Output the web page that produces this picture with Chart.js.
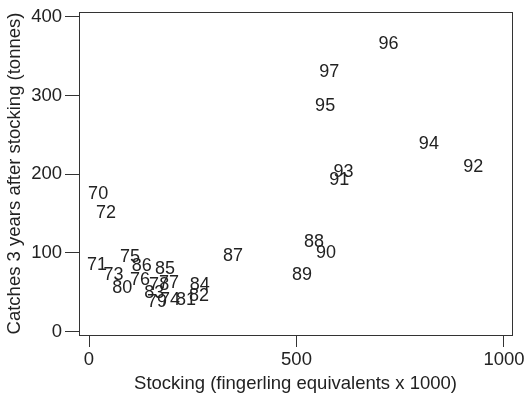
<!DOCTYPE html>
<html>
<head>
<meta charset="utf-8">
<script src="https://cdn.jsdelivr.net/npm/chart.js@4"></script>
<style>
  html, body { margin: 0; padding: 0; background: #fff; }
  #wrap { width: 525px; height: 396px; }
</style>
</head>
<body>
<div id="wrap"><canvas id="myChart" width="525" height="396"></canvas></div>
<script>
// years used as point labels
var years = ['70','71','72','73','74','75','76','77','78','79','80','81','82','83',
             '84','85','86','87','88','89','90','91','92','93','94','95','96','97'];
// stocking (fingerling equivalents x 1000)
var stocking = [22, 19, 41, 59, 195, 99, 123, 193, 169, 164, 80, 234, 265, 157,
                267, 183, 127, 347, 542, 513, 571, 603, 926, 613, 819, 569, 722, 579];
// catches 3 years after stocking (tonnes)
var catches = [175, 85, 151, 72, 40, 95, 66, 62, 59, 38, 55, 40, 45, 49,
               59, 80, 83, 96, 114, 72, 100, 193, 209, 203, 238, 286, 365, 330];
var xTicks = [0, 500, 1000];
var yTicks = [0, 100, 200, 300, 400];

var FONT = "'Liberation Sans', Arial, sans-serif";
var INK = '#222';

var points = stocking.map(function(s, i) { return { x: s, y: catches[i] }; });

// draw the year text at each point, plus the box round the plot
var yearLabels = {
  id: 'yearLabels',
  afterDatasetsDraw: function(chart) {
    var ctx = chart.ctx;
    var meta = chart.getDatasetMeta(0);
    ctx.save();
    ctx.fillStyle = INK;
    ctx.font = '18px ' + FONT;
    ctx.textAlign = 'center';
    ctx.textBaseline = 'middle';
    meta.data.forEach(function(pt, i) {
      ctx.fillText(years[i], pt.x, pt.y);
    });
    var a = chart.chartArea;
    ctx.strokeStyle = '#333';
    ctx.lineWidth = 1;
    ctx.strokeRect(Math.round(a.left) + 0.5, Math.round(a.top) + 0.5,
                   Math.round(a.right - a.left), Math.round(a.bottom - a.top));
    ctx.restore();
  }
};

var ctx = document.getElementById('myChart').getContext('2d');
var myChart = new Chart(ctx, {
  type: 'scatter',
  data: {
    datasets: [{
      data: points,
      pointRadius: 0,
      pointHoverRadius: 0,
      showLine: false
    }]
  },
  options: {
    responsive: false,
    animation: false,
    events: [],
    layout: { padding: { top: 12, right: 13, left: 0, bottom: 0 } },
    plugins: {
      legend: { display: false },
      tooltip: { enabled: false }
    },
    scales: {
      x: {
        type: 'linear',
        min: -24.1,
        max: 1019.3,
        afterBuildTicks: function(scale) {
          scale.ticks = xTicks.map(function(v) { return { value: v }; });
        },
        afterFit: function(scale) {
          scale.height = 61;
          scale.paddingLeft = 0;
          scale.paddingRight = 0;
        },
        grid: {
          drawOnChartArea: false,
          drawTicks: true,
          tickLength: 12,
          color: '#333'
        },
        border: { display: false },
        ticks: {
          autoSkip: false,
          maxRotation: 0,
          padding: 2,
          color: INK,
          font: { family: FONT, size: 18.5 },
          callback: function(v) { return String(v); }
        },
        title: {
          display: true,
          text: 'Stocking (fingerling equivalents x 1000)',
          color: INK,
          font: { family: FONT, size: 18.5 },
          padding: { top: 0, bottom: 1 }
        }
      },
      y: {
        type: 'linear',
        min: -4.3,
        max: 406,
        afterBuildTicks: function(scale) {
          scale.ticks = yTicks.map(function(v) { return { value: v }; });
        },
        afterFit: function(scale) {
          scale.width = 79;
          scale.paddingTop = 0;
          scale.paddingBottom = 0;
        },
        grid: {
          drawOnChartArea: false,
          drawTicks: true,
          tickLength: 14,
          color: '#333'
        },
        border: { display: false },
        ticks: {
          autoSkip: false,
          padding: 3,
          color: INK,
          font: { family: FONT, size: 18.5 },
          callback: function(v) { return String(v); }
        },
        title: {
          display: true,
          text: 'Catches 3 years after stocking (tonnes)',
          color: INK,
          font: { family: FONT, size: 18.5 },
          padding: { top: 4, bottom: 0 }
        }
      }
    }
  },
  plugins: [yearLabels]
});
</script>
</body>
</html>
